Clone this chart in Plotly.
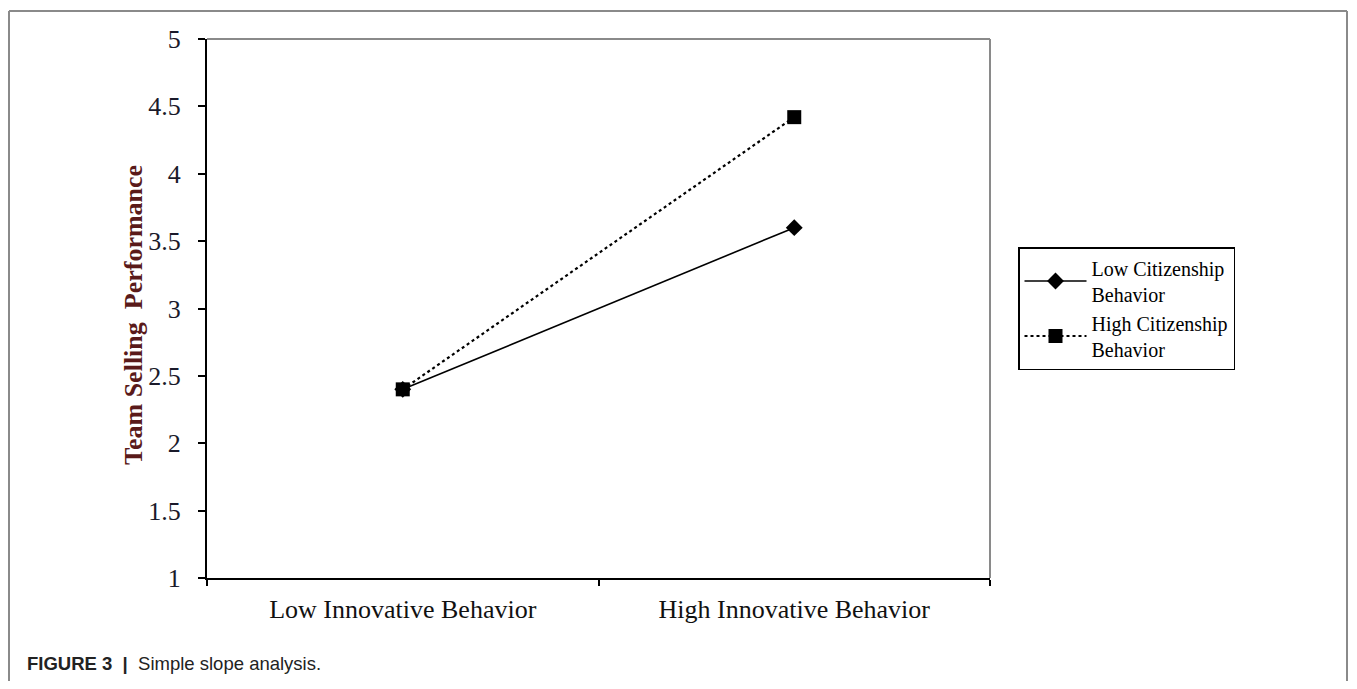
import plotly.graph_objects as go

categories = ["Low Innovative Behavior", "High Innovative Behavior"]
low_citizenship = [2.4, 3.6]
high_citizenship = [2.4, 4.42]
y_ticks = [1, 1.5, 2, 2.5, 3, 3.5, 4, 4.5, 5]
y_tick_labels = ["1", "1.5", "2", "2.5", "3", "3.5", "4", "4.5", "5"]

OFF = 8  # page body margin
W, H = 1357 - 2 * OFF, 689 - 2 * OFF
L, R, T, B = 207 - OFF, 990 - OFF, 39 - OFF, 578 - OFF
pw, ph = R - L, B - T

def px(x):
    return (x - OFF - L) / pw

def py(y):
    return (B - (y - OFF)) / ph

serif = "Liberation Serif, Times New Roman, serif"

fig = go.Figure()
fig.add_trace(go.Scatter(
    x=categories, y=low_citizenship, mode="lines+markers",
    name="Low Citizenship<br>Behavior",
    line=dict(color="black", width=1.6),
    marker=dict(symbol="diamond", size=13, color="black"),
))
fig.add_trace(go.Scatter(
    x=categories, y=high_citizenship, mode="lines+markers",
    name="High Citizenship<br>Behavior",
    line=dict(color="black", width=2.2, dash="dot"),
    marker=dict(symbol="square", size=14, color="black"),
))

shapes = []
shapes.append(dict(type="line", xref="paper", yref="paper", x0=0, x1=1, y0=1, y1=1,
                   line=dict(color="#8a8a8a", width=2)))
shapes.append(dict(type="line", xref="paper", yref="paper", x0=1, x1=1, y0=0, y1=1,
                   line=dict(color="#8a8a8a", width=2)))
right_edge = OFF + W - 2
shapes.append(dict(type="line", xref="paper", yref="paper", x0=px(9), x1=px(right_edge), y0=py(11), y1=py(11),
                   line=dict(color="#8a8a8a", width=2)))
shapes.append(dict(type="line", xref="paper", yref="paper", x0=px(9), x1=px(9), y0=py(11), y1=py(700),
                   line=dict(color="#8a8a8a", width=2)))
shapes.append(dict(type="line", xref="paper", yref="paper", x0=px(right_edge), x1=px(right_edge), y0=py(11), y1=py(700),
                   line=dict(color="#8a8a8a", width=2)))

fig.update_layout(
    width=W, height=H,
    margin=dict(l=L, r=W - R, t=T, b=H - B, pad=0),
    paper_bgcolor="white", plot_bgcolor="white",
    showlegend=True,
    legend=dict(
        x=px(1018), y=py(247), xanchor="left", yanchor="top",
        bordercolor="black", borderwidth=1.5, bgcolor="white",
        font=dict(family=serif, size=20, color="black"),
        itemwidth=62, tracegroupgap=0,
    ),
    xaxis=dict(
        type="category", range=[-0.5, 1.5],
        showline=True, linecolor="black", linewidth=2,
        ticks="outside", tickson="boundaries", ticklen=6, tickcolor="black", tickwidth=1.5,
        showgrid=False, zeroline=False, ticklabelstandoff=7,
        tickfont=dict(family=serif, size=26, color="#111"),
    ),
    yaxis=dict(
        range=[1, 5], tickvals=y_ticks, ticktext=y_tick_labels,
        showline=True, linecolor="black", linewidth=2,
        ticks="outside", ticklen=7, tickcolor="black", tickwidth=1.5,
        showgrid=False, zeroline=False, ticklabelstandoff=12,
        tickfont=dict(family=serif, size=26, color="#1a1a2a"),
    ),
    shapes=shapes,
    annotations=[
        dict(
            xref="paper", yref="paper", x=px(133), y=py(315), xanchor="center", yanchor="middle",
            text="<b>Team Selling  Performance</b>", textangle=-90, showarrow=False,
            font=dict(family=serif, size=26, color="#5a1a1a"),
        ),
        dict(
            xref="paper", yref="paper", x=px(25), y=py(663), xanchor="left", yanchor="middle",
            text="<b>FIGURE 3</b>  <b>|</b>  Simple slope analysis.", showarrow=False,
            font=dict(family="Liberation Sans, Arial, sans-serif", size=18.5, color="#222"),
        ),
    ],
)

fig.write_html("out.html")
